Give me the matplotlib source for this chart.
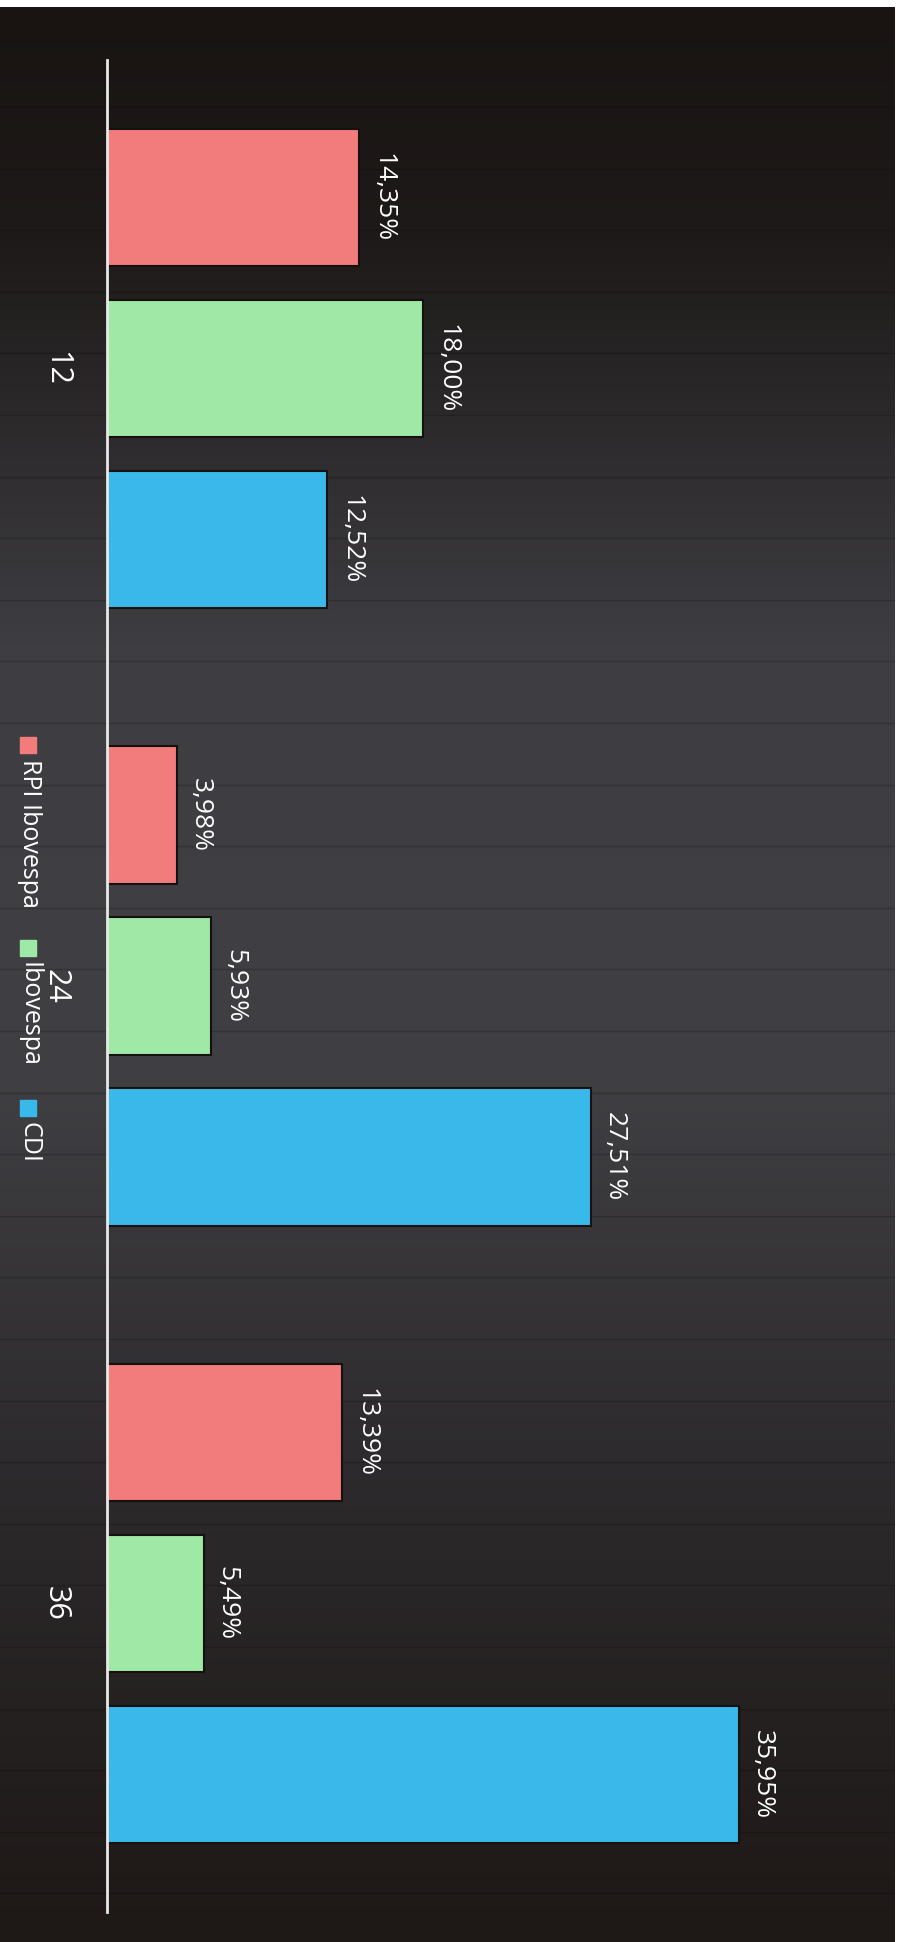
import matplotlib.pyplot as plt
from matplotlib.patches import Rectangle
import numpy as np

plt.rcParams['font.family'] = ['Open Sans', 'DejaVu Sans']

# data (months, return per series)
periods = ["12", "24", "36"]
series = ["RPI Ibovespa", "Ibovespa", "CDI"]
colors = ["#f27b7b", "#9ee9a5", "#38b9ea"]
rpi_ibov = [14.35, 3.98, 13.39]
ibov = [18.00, 5.93, 5.49]
cdi = [12.52, 27.51, 35.95]
values = [rpi_ibov, ibov, cdi]

W, H = 900, 1942
fig = plt.figure(figsize=(W / 100, H / 100), dpi=100, facecolor="white")

# photo-like dark background with a vertical gradient
bg = fig.add_axes([0, 0, 895 / W, 1935 / H])
t = np.linspace(0, 1, 500)
stops = [0, 0.12, 0.33, 0.55, 0.75, 1]
rgb = np.array([[25, 20, 18], [30, 26, 25], [62, 61, 66],
                [64, 63, 67], [45, 43, 45], [30, 24, 22]]) / 255
img = np.stack([np.interp(t, stops, rgb[:, k]) for k in range(3)], axis=1)
bg.imshow(img[:, None, :], aspect="auto", extent=[0, 1, 0, 1])
for yp in np.arange(100, 1935, 61.6):
    bg.axhline(1 - yp / 1935, color="black", alpha=0.18, lw=1)
bg.set_xlim(0, 1)
bg.set_ylim(0, 1)
bg.axis("off")

ax = fig.add_axes([107 / W, 30 / H, 697 / W, 1852 / H])
ax.set_facecolor("none")

y = np.arange(len(periods))
offsets = [-0.277, 0, 0.277]
for vals, off, c in zip(values, offsets, colors):
    bars = ax.barh(y + off, vals, height=0.222, color=c,
                   edgecolor="#161111", linewidth=1.5)
    for b, v in zip(bars, vals):
        ax.annotate(f"{v:.2f}%".replace(".", ","),
                    xy=(v, b.get_y() + b.get_height() / 2),
                    xytext=(8, 0), textcoords="offset points",
                    rotation=-90, ha="left", va="center",
                    color="white", fontsize=19)

ax.set_xlim(0, 39.65)
ax.set_ylim(2.5, -0.5)
ax.set_yticks(y, labels=periods)
ax.set_xticks([])
ax.tick_params(axis="y", length=0, pad=26, labelsize=22,
               labelcolor="white", labelrotation=-90)
for lab in ax.get_yticklabels():
    lab.set_va("center")
for s in ["top", "right", "bottom"]:
    ax.spines[s].set_visible(False)
ax.spines["left"].set_color("#e8e8e8")
ax.spines["left"].set_linewidth(2)

# vertical legend on the left edge
leg_pos = [737, 940, 1100]
for name, c, yp in zip(series, colors, leg_pos):
    fig.patches.append(Rectangle((20 / W, 1 - (yp + 16) / H), 16 / W, 16 / H,
                                 transform=fig.transFigure, color=c))
    fig.text(29 / W, 1 - (yp + 22) / H, name, rotation=-90,
             ha="center", va="top", color="white", fontsize=18)

fig.savefig("out.png", dpi=100, facecolor="white")
